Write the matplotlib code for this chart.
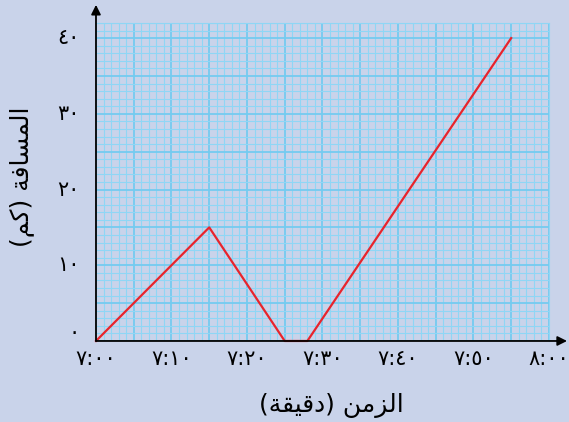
import matplotlib.pyplot as plt
import numpy as np

# temps en minutes depuis 7:00, distance en km
temps = [0, 15, 25, 28, 55]
distance = [0, 15, 0, 0, 40]

x_ticks = [0, 10, 20, 30, 40, 50, 60]
x_labels = ['٧:٠٠', '٧:١٠', '٧:٢٠', '٧:٣٠', '٧:٤٠', '٧:٥٠', '٨:٠٠']
y_ticks = [0, 10, 20, 30, 40]
y_labels = ['٠', '١٠', '٢٠', '٣٠', '٤٠']

# textes arabes deja mis en forme (formes de presentation, ordre visuel)
titre_x = '(\uFE94\uFED8\uFEF4\uFED7\uFEA9) \uFEE6\uFEE3\uFEB0\uFEDF\uFE8D'
titre_y = '(\uFEE2\uFEDB) \uFE94\uFED3\uFE8E\uFEB4\uFEE4\uFEDF\uFE8D'

fond = '#c9d3ea'
fig = plt.figure(figsize=(5.69, 4.22), dpi=100, facecolor=fond)
ax = fig.add_axes([0.1687, 0.192, 0.796, 0.7536])
ax.set_facecolor(fond)

ax.set_xlim(0, 60)
ax.set_ylim(0, 42)

# papier millimetre
ax.set_xticks(np.arange(0, 61, 5))
ax.set_yticks(np.arange(0, 43, 5))
ax.set_xticks(np.arange(0, 61, 1), minor=True)
ax.set_yticks(np.arange(0, 43, 1), minor=True)
ax.grid(which='major', color='#74cbf0', lw=1.3)
ax.grid(which='minor', color='#8fd6f5', lw=0.8)
ax.set_axisbelow(True)
ax.tick_params(which='both', length=0, labelbottom=False, labelleft=False)

for s in ax.spines.values():
    s.set_visible(False)
ax.spines['right'].set_visible(True)
ax.spines['right'].set_color('#8fd6f5')
ax.spines['top'].set_visible(True)
ax.spines['top'].set_color('#8fd6f5')

ax.plot(temps, distance, color='#e8242c', lw=1.6, zorder=3, clip_on=False)

# etiquettes des axes
for t, lab in zip(x_ticks, x_labels):
    ax.text(t, -2.4, lab, ha='center', va='center', fontsize=15, family='DejaVu Sans')
for v, lab in zip(y_ticks, y_labels):
    ax.text(-2.2, v + (1.0 if v == 0 else 0), lab, ha='right', va='center', fontsize=15,
            family='DejaVu Sans')

fig.text(0.582, 0.04, titre_x, ha='center', va='center', fontsize=18)
fig.text(0.038, 0.58, titre_y, ha='center', va='center', fontsize=18, rotation=90)

# axes avec fleches
fleche = dict(arrowstyle='-|>', color='black', lw=1.3, mutation_scale=14, shrinkA=0, shrinkB=0)
ax.annotate('', xy=(1.04, 0), xytext=(0, 0), xycoords='axes fraction', arrowprops=fleche)
ax.annotate('', xy=(0, 1.057), xytext=(0, 0), xycoords='axes fraction', arrowprops=fleche)

fig.savefig('out.png', dpi=100, facecolor=fond)
